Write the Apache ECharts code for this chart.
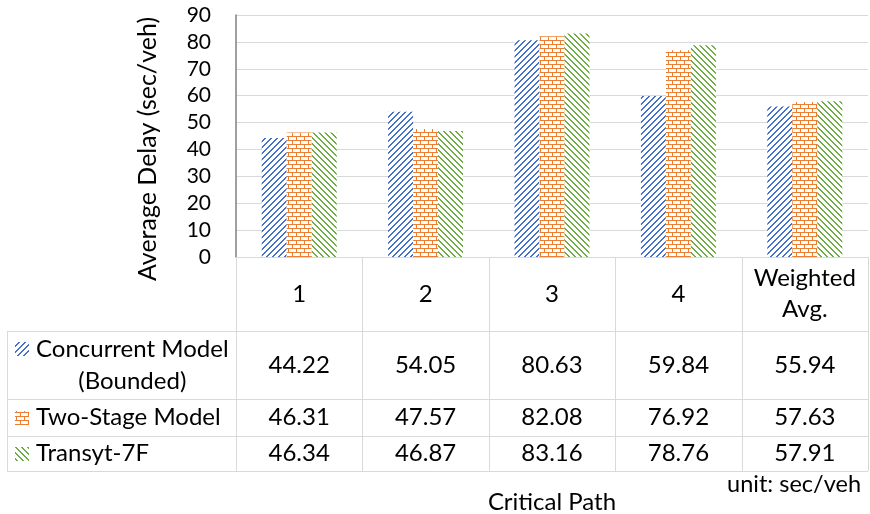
<!DOCTYPE html>
<html><head><meta charset="utf-8">
<script src="https://cdn.jsdelivr.net/npm/echarts@6/dist/echarts.min.js"></script>
<style>html,body{margin:0;padding:0;background:#fff}#c{width:870px;height:514px}</style>
</head><body><div id="c"></div>
<script>
// ---- data ----
const categories = ['1', '2', '3', '4', 'Weighted Avg.'];
const seriesNames = ['Concurrent Model (Bounded)', 'Two-Stage Model', 'Transyt-7F'];
const concurrent = [44.22, 54.05, 80.63, 59.84, 55.94];
const twoStage = [46.31, 47.57, 82.08, 76.92, 57.63];
const transyt = [46.34, 46.87, 83.16, 78.76, 57.91];
const yMin = 0, yMax = 90, yStep = 10;
const yTitle = 'Average Delay (sec/veh)';
const xTitle = 'Critical Path';
const unitNote = 'unit: sec/veh';

// ---- styling / layout ----
const FONT = 'Lato, "Noto Sans", sans-serif';
const colors = ['#4472C4', '#ED7D31', '#70AD47'];
const kinds = ['up', 'brick', 'down'];
const G = {left: 236, right: 868, top: 15, bottom: 257};
const rows = [[331, 399], [399, 436], [436, 471]];
const tableLeft = 7;

function makePattern(kind, color) {
  const c = document.createElement('canvas');
  const s = kind === 'brick' ? 8 : 6;
  c.width = s; c.height = s;
  const g = c.getContext('2d');
  g.fillStyle = '#fff'; g.fillRect(0, 0, s, s);
  g.fillStyle = color;
  for (let y = 0; y < s; y++) for (let x = 0; x < s; x++) {
    let on;
    if (kind === 'up') on = ((x + y) % s) < 2;
    else if (kind === 'down') on = ((((x - y) % s) + s) % s) < 2;
    else on = (y === 0 || y === 4) || (x === 0 && y < 4) || (x === 4 && y > 4);
    if (on) g.fillRect(x, y, 1, 1);
  }
  return c;
}
const patterns = kinds.map((k, i) => makePattern(k, colors[i]));
const values = [concurrent, twoStage, transyt];

const chart = echarts.init(document.getElementById('c'), null, {renderer: 'canvas'});
chart.setOption({
  animation: false,
  backgroundColor: '#fff',
  grid: {left: G.left, right: 870 - G.right, top: G.top, bottom: 514 - G.bottom, containLabel: false},
  xAxis: {
    type: 'category', data: categories,
    axisLine: {lineStyle: {color: '#d9d9d9', width: 1}},
    axisTick: {show: false}, axisLabel: {show: false}, splitLine: {show: false}
  },
  yAxis: {
    type: 'value', min: yMin, max: yMax, interval: yStep,
    axisLine: {show: true, lineStyle: {color: '#808080', width: 1.5}},
    axisTick: {show: false},
    axisLabel: {color: '#000', fontSize: 21, fontFamily: FONT, margin: 25},
    splitLine: {lineStyle: {color: '#d9d9d9', width: 1}}
  },
  series: seriesNames.map((n, i) => ({
    type: 'bar', name: n, data: values[i],
    barGap: '0%', barCategoryGap: '40.7%',
    itemStyle: {color: {image: patterns[i], repeat: 'repeat'}}
  }))
});

// ---- data table below the chart ----
const mctx = document.createElement('canvas').getContext('2d');
const TFS = 24;
mctx.font = TFS + 'px ' + FONT;
function wrap(text, maxW) {
  const words = text.split(' ');
  const lines = [];
  let cur = '';
  words.forEach(w => {
    const t = cur ? cur + ' ' + w : w;
    if (cur && mctx.measureText(t).width > maxW) { lines.push(cur); cur = w; }
    else cur = t;
  });
  if (cur) lines.push(cur);
  return lines;
}

const gfx = [];
const line = (x1, y1, x2, y2, c) => gfx.push({type: 'line', silent: true, z: 10,
  shape: {x1, y1, x2, y2}, style: {stroke: c || '#d9d9d9', lineWidth: 1}});
const text = (t, x, y, align, size, extra) => gfx.push(Object.assign({type: 'text', silent: true, z: 11,
  x, y, style: {text: t, fill: '#000', font: (size || TFS) + 'px ' + FONT,
  textAlign: align || 'center', textVerticalAlign: 'middle'}}, extra || {}));

const catW = (G.right - G.left) / categories.length;
// horizontal lines
rows.forEach(r => line(tableLeft, r[0] + 0.5, G.right, r[0] + 0.5));
line(tableLeft, rows[2][1] + 0.5, G.right, rows[2][1] + 0.5);
// vertical lines
line(tableLeft + 0.5, rows[0][0], tableLeft + 0.5, rows[2][1]);
for (let i = 0; i <= categories.length; i++) {
  const x = Math.round(G.left + i * catW) + 0.5;
  line(x, G.bottom, x, rows[2][1]);
}
// header: categories
categories.forEach((c, i) => {
  const cx = chart.convertToPixel({xAxisIndex: 0}, i);
  const lines = wrap(c, catW - 10);
  const lh = 31;
  const mid = (G.bottom + rows[0][0]) / 2;
  lines.forEach((l, k) => text(l, cx, mid + (k - (lines.length - 1) / 2) * lh));
});
// rows: series names with key + values
seriesNames.forEach((n, s) => {
  const [y0, y1] = rows[s];
  const mid = (y0 + y1) / 2;
  const lines = wrap(n, G.left - 36 - 2);
  const lh = 32;
  const widths = lines.map(l => mctx.measureText(l).width);
  const bw = Math.max.apply(null, widths);
  const bx = 36 + bw / 2;
  const firstY = mid - (lines.length - 1) / 2 * lh;
  lines.forEach((l, k) => text(l, lines.length > 1 ? bx : 36, firstY + k * lh, lines.length > 1 ? 'center' : 'left'));
  gfx.push({type: 'rect', silent: true, z: 11, shape: {x: 15, y: Math.round(firstY - 7), width: 14, height: 14},
    style: {fill: {image: patterns[s], repeat: 'repeat'}}});
  values[s].forEach((v, i) => {
    const cx = chart.convertToPixel({xAxisIndex: 0}, i);
    text(v.toFixed(2), cx, mid);
  });
});
// titles
text(yTitle, 148, 149, 'center', 25, {rotation: Math.PI / 2});
text(xTitle, (G.left + G.right) / 2, 502, 'center', 24);
text(unitNote, 861, 484, 'right', 23.5);

chart.setOption({graphic: {elements: gfx}});
</script>
</body></html>
